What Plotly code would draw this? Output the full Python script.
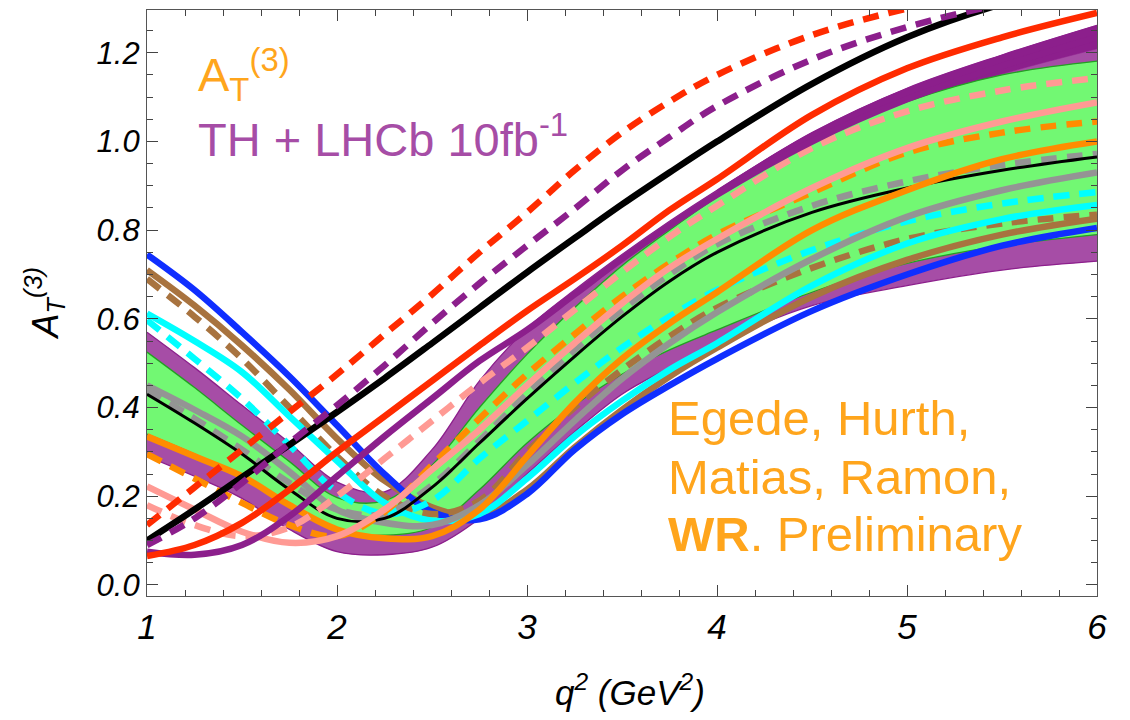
import plotly.graph_objects as go

# ---------------- data ----------------
q2 = [1, 1.25, 1.5, 1.75, 2, 2.25, 2.5, 2.75, 3, 3.25, 3.5, 3.75, 4, 4.5, 5, 5.5, 6]

purple_lo = [0.29, 0.245, 0.195, 0.125, 0.075, 0.068, 0.085, 0.15, 0.25, 0.345, 0.43, 0.49, 0.545, 0.63, 0.675, 0.71, 0.73]
purple_hi = [0.57, 0.49, 0.405, 0.32, 0.232, 0.21, 0.305, 0.46, 0.578, 0.665, 0.745, 0.82, 0.89, 1.02, 1.12, 1.195, 1.262]
green_lo = [0.34, 0.295, 0.245, 0.185, 0.12, 0.112, 0.13, 0.215, 0.32, 0.405, 0.475, 0.53, 0.575, 0.66, 0.725, 0.765, 0.79]
green_hi = [0.525, 0.445, 0.36, 0.278, 0.197, 0.19, 0.27, 0.40, 0.52, 0.625, 0.72, 0.80, 0.875, 1.005, 1.09, 1.15, 1.181]

q2_strip = [4, 4.5, 5, 5.5, 6]
strip_lo = [0.882, 1.0, 1.085, 1.152, 1.209]
strip_hi = [0.89, 1.02, 1.12, 1.195, 1.262]

red_dash = [0.135, 0.22, 0.305, 0.39, 0.475, 0.565, 0.655, 0.75, 0.84, 0.935, 1.02, 1.09, 1.15, 1.24, 1.30, 1.345, 1.38]
purple_dash = [0.09, 0.15, 0.23, 0.32, 0.405, 0.495, 0.59, 0.68, 0.765, 0.848, 0.935, 1.01, 1.08, 1.185, 1.258, 1.31, 1.35]
black_thick = [0.10, 0.17, 0.243, 0.316, 0.39, 0.466, 0.545, 0.625, 0.705, 0.782, 0.858, 0.93, 1.0, 1.13, 1.235, 1.31, 1.36]
red_solid = [0.065, 0.09, 0.14, 0.215, 0.30, 0.38, 0.46, 0.54, 0.618, 0.69, 0.765, 0.845, 0.915, 1.06, 1.165, 1.235, 1.29]
purple_solid = [0.075, 0.068, 0.09, 0.155, 0.245, 0.335, 0.42, 0.505, 0.575, 0.655, 0.735, 0.81, 0.88, 1.0, 1.095, 1.17, 1.235]
pink_solid = [0.222, 0.17, 0.12, 0.095, 0.11, 0.17, 0.26, 0.35, 0.45, 0.545, 0.635, 0.715, 0.78, 0.895, 0.985, 1.045, 1.088]
pink_dash = [0.18, 0.135, 0.11, 0.13, 0.20, 0.285, 0.37, 0.455, 0.535, 0.62, 0.705, 0.785, 0.855, 0.985, 1.068, 1.115, 1.143]
orange_solid = [0.335, 0.29, 0.245, 0.18, 0.125, 0.105, 0.11, 0.17, 0.29, 0.41, 0.51, 0.59, 0.66, 0.80, 0.89, 0.96, 1.0]
orange_dash = [0.295, 0.24, 0.185, 0.135, 0.11, 0.165, 0.27, 0.375, 0.475, 0.565, 0.65, 0.725, 0.79, 0.885, 0.975, 1.02, 1.045]
gray_solid = [0.45, 0.395, 0.335, 0.255, 0.17, 0.14, 0.135, 0.18, 0.27, 0.37, 0.465, 0.545, 0.615, 0.735, 0.83, 0.89, 0.93]
gray_dash = [0.44, 0.375, 0.305, 0.23, 0.17, 0.16, 0.225, 0.325, 0.43, 0.53, 0.62, 0.70, 0.768, 0.855, 0.91, 0.947, 0.972]
black_thin = [0.43, 0.365, 0.295, 0.215, 0.15, 0.15, 0.22, 0.32, 0.42, 0.515, 0.605, 0.685, 0.75, 0.84, 0.895, 0.935, 0.965]
cyan_solid = [0.612, 0.55, 0.48, 0.38, 0.28, 0.185, 0.145, 0.16, 0.24, 0.335, 0.415, 0.485, 0.545, 0.675, 0.77, 0.825, 0.857]
cyan_dash = [0.597, 0.51, 0.42, 0.315, 0.21, 0.16, 0.19, 0.285, 0.37, 0.455, 0.535, 0.605, 0.665, 0.755, 0.82, 0.86, 0.886]
brown_solid = [0.71, 0.63, 0.54, 0.44, 0.33, 0.235, 0.175, 0.155, 0.215, 0.31, 0.395, 0.47, 0.535, 0.65, 0.733, 0.79, 0.826]
brown_dash = [0.69, 0.605, 0.51, 0.40, 0.29, 0.20, 0.16, 0.19, 0.30, 0.40, 0.485, 0.56, 0.625, 0.715, 0.78, 0.815, 0.835]
blue_solid = [0.745, 0.665, 0.57, 0.47, 0.36, 0.25, 0.165, 0.148, 0.205, 0.305, 0.385, 0.45, 0.51, 0.618, 0.70, 0.765, 0.805]

x_ticks = [1, 2, 3, 4, 5, 6]
y_ticks = [0.0, 0.2, 0.4, 0.6, 0.8, 1.0, 1.2]
y_tick_text = ["0.0", "0.2", "0.4", "0.6", "0.8", "1.0", "1.2"]

# ---------------- styles ----------------
PURPLE_FILL = "#A64DA6"
PURPLE_DARK = "#8C1F8C"
GREEN_FILL = "#72F873"
GREEN_EDGE = "#22A022"
RED = "#FF2B00"
PINK = "#FF9A94"
ORANGE = "#FF8C00"
GRAY = "#949494"
CYAN = "#00FFFF"
BROWN = "#A8733F"
BLUE = "#0F2EFF"
TXT_ORANGE = "#FFA51C"
DASH = "16px,10px"
W = 6.5

fig = go.Figure()

def band(lo, hi, fill, edge, xs=q2, ew=1.3):
    fig.add_trace(go.Scatter(x=xs, y=lo, mode="lines", line=dict(color=edge, width=ew, shape="spline"),
                             showlegend=False, hoverinfo="skip"))
    fig.add_trace(go.Scatter(x=xs, y=hi, mode="lines", line=dict(color=edge, width=ew, shape="spline"),
                             fill="tonexty", fillcolor=fill, showlegend=False, hoverinfo="skip"))

band(purple_lo, purple_hi, PURPLE_FILL, PURPLE_DARK)
band(strip_lo, strip_hi, PURPLE_DARK, PURPLE_DARK, xs=q2_strip, ew=0.5)
band(green_lo, green_hi, GREEN_FILL, GREEN_EDGE)

def curve(y, color, dash=None, width=W):
    fig.add_trace(go.Scatter(x=q2, y=y, mode="lines",
                             line=dict(color=color, width=width, shape="spline", dash=dash or "solid"),
                             showlegend=False, hoverinfo="skip"))

curve(brown_solid, BROWN)
curve(blue_solid, BLUE)
curve(brown_dash, BROWN, DASH)
curve(cyan_solid, CYAN)
curve(cyan_dash, CYAN, DASH)
curve(gray_solid, GRAY)
curve(gray_dash, GRAY, DASH)
curve(black_thin, "black", width=3)
curve(orange_solid, ORANGE)
curve(orange_dash, ORANGE, DASH)
curve(pink_solid, PINK)
curve(pink_dash, PINK, DASH)
curve(purple_solid, PURPLE_DARK)
curve(red_solid, RED)
curve(black_thick, "black")
curve(purple_dash, PURPLE_DARK, DASH)
curve(red_dash, RED, DASH)

axis_common = dict(showgrid=False, zeroline=False, showline=True, linecolor="#555555", linewidth=1.2,
                   ticks="inside", tickcolor="#444444", ticklen=11, tickwidth=1, mirror="allticks")

fig.update_xaxes(range=[1, 6], tickvals=x_ticks, ticktext=[str(v) for v in x_ticks],
                 tickfont=dict(family="Liberation Sans Narrow, Liberation Sans", size=35, color="black", style="italic"),
                 minor=dict(dtick=0.2, ticks="inside", ticklen=6, tickcolor="#444444"),
                 **axis_common)
fig.update_yaxes(range=[-0.025, 1.2965], tickvals=y_ticks, ticktext=y_tick_text,
                 tickfont=dict(family="Liberation Sans", size=31, color="black", style="italic"),
                 minor=dict(dtick=0.05, ticks="inside", ticklen=6, tickcolor="#444444"),
                 **axis_common)

ann = [
    dict(text="A<sub>T</sub><sup>(3)</sup>", x=0.052, y=0.89, color=TXT_ORANGE, size=47),
    dict(text="TH + LHCb 10fb<sup>-1</sup>", x=0.052, y=0.785, color="#A64DA6", size=47),
    dict(text="Egede, Hurth,", x=0.546, y=0.303, color=TXT_ORANGE, size=49),
    dict(text="Matias, Ramon,", x=0.546, y=0.203, color=TXT_ORANGE, size=49),
    dict(text="<b>WR</b>. Preliminary", x=0.546, y=0.105, color=TXT_ORANGE, size=49),
]
for a in ann:
    fig.add_annotation(text=a["text"], x=a["x"], y=a["y"], xref="paper", yref="paper",
                       xanchor="left", yanchor="middle", showarrow=False,
                       font=dict(family="Liberation Sans", size=a["size"], color=a["color"]))

fig.add_annotation(text="q<sup>2</sup> (GeV<sup>2</sup>)", x=0.508, y=-0.16, xref="paper", yref="paper",
                   xanchor="center", yanchor="middle", showarrow=False,
                   font=dict(family="Liberation Sans Narrow, Liberation Sans", size=35, color="black", style="italic"))
fig.add_annotation(text="A<sub>T</sub><sup>(3)</sup>", x=-0.108, y=0.5, xref="paper", yref="paper",
                   xanchor="center", yanchor="middle", showarrow=False, textangle=-90,
                   font=dict(family="Liberation Sans", size=36, color="black", style="italic"))

fig.update_layout(width=1130, height=720, margin=dict(l=147, r=33, t=10, b=124),
                  plot_bgcolor="white", paper_bgcolor="white", showlegend=False)

fig.write_html("out.html")
